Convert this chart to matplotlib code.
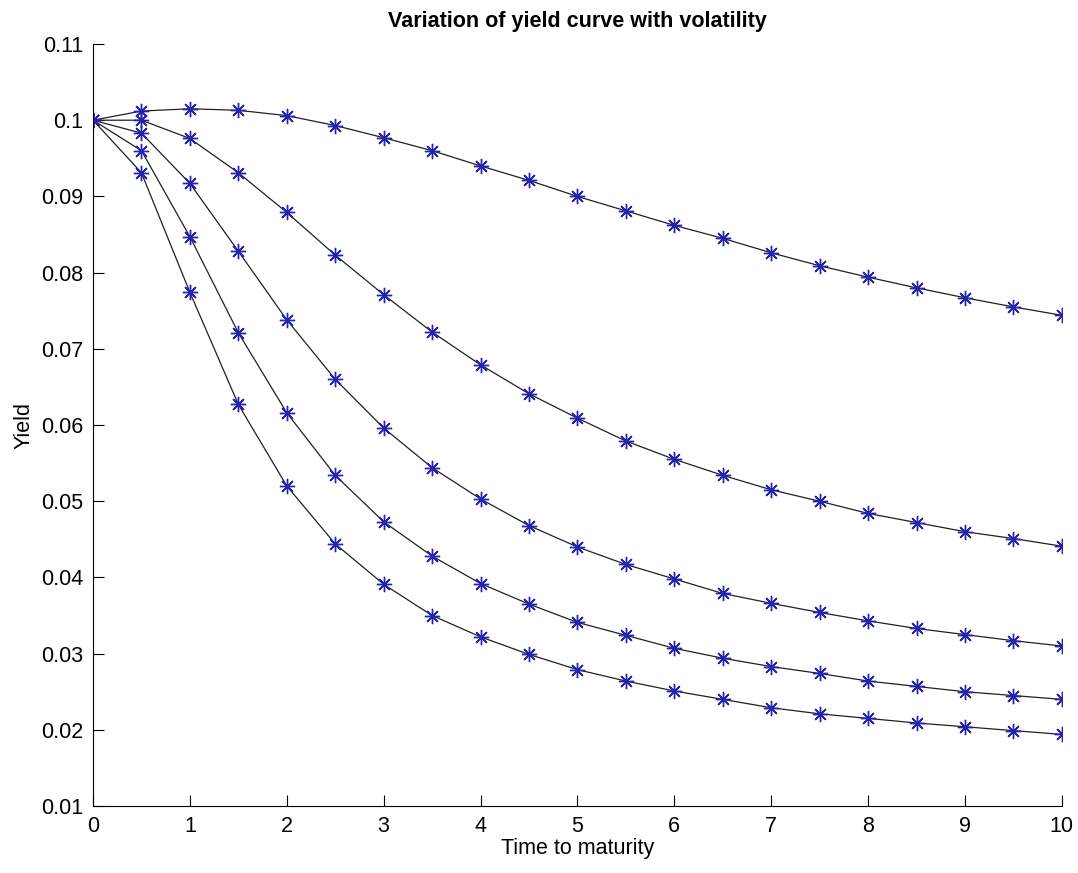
import matplotlib.pyplot as plt

# yield curves for increasing volatility
maturity = [0, 0.5, 1, 1.5, 2, 2.5, 3, 3.5, 4, 4.5, 5,
            5.5, 6, 6.5, 7, 7.5, 8, 8.5, 9, 9.5, 10]

yield_1 = [0.1, 0.1012, 0.1015, 0.1013, 0.1006, 0.0993, 0.0977, 0.0960, 0.0940, 0.0921, 0.0900,
           0.0881, 0.0862, 0.0845, 0.0826, 0.0809, 0.0794, 0.0780, 0.0767, 0.0755, 0.0744]
yield_2 = [0.1, 0.1000, 0.0976, 0.0931, 0.0879, 0.0823, 0.0771, 0.0722, 0.0679, 0.0641, 0.0609,
           0.0579, 0.0555, 0.0534, 0.0515, 0.0500, 0.0484, 0.0472, 0.0460, 0.0451, 0.0441]
yield_3 = [0.1, 0.0983, 0.0917, 0.0828, 0.0738, 0.0660, 0.0596, 0.0544, 0.0503, 0.0468, 0.0440,
           0.0417, 0.0398, 0.0379, 0.0366, 0.0354, 0.0343, 0.0333, 0.0325, 0.0317, 0.0310]
yield_4 = [0.1, 0.0960, 0.0847, 0.0721, 0.0616, 0.0534, 0.0473, 0.0428, 0.0392, 0.0365, 0.0341,
           0.0324, 0.0307, 0.0294, 0.0283, 0.0274, 0.0264, 0.0257, 0.0250, 0.0245, 0.0240]
yield_5 = [0.1, 0.0931, 0.0774, 0.0627, 0.0520, 0.0444, 0.0391, 0.0350, 0.0322, 0.0299, 0.0279,
           0.0264, 0.0251, 0.0240, 0.0229, 0.0221, 0.0215, 0.0209, 0.0204, 0.0199, 0.0194]

curves = [yield_1, yield_2, yield_3, yield_4, yield_5]

plt.rcParams['font.family'] = ['Liberation Sans', 'DejaVu Sans']

fig = plt.figure(figsize=(10.78, 8.73), dpi=100)
ax = fig.add_axes([0.0863, 0.0767, 0.8987, 0.8729])

for y in curves:
    ax.plot(maturity, y, color='#202020', linewidth=0.9)
    ax.plot(maturity, y, linestyle='none', marker=(8, 2, 0), markersize=11,
            markeredgecolor='#2424b0', markeredgewidth=1.0)

ax.set_xlim(0, 10)
ax.set_ylim(0.01, 0.11)
ax.set_xticks(range(0, 11))
ax.set_yticks([0.01, 0.02, 0.03, 0.04, 0.05, 0.06, 0.07, 0.08, 0.09, 0.1, 0.11])
ax.set_yticklabels(['0.01', '0.02', '0.03', '0.04', '0.05', '0.06', '0.07', '0.08', '0.09', '0.1', '0.11'])

# matlab style axes: only left and bottom, ticks pointing in
ax.spines['top'].set_visible(False)
ax.spines['right'].set_visible(False)
ax.tick_params(direction='in', length=8, labelsize=15.5, pad=7)

ax.set_xlabel('Time to maturity', size=15.5, labelpad=1)
ax.set_ylabel('Yield', size=15.5, labelpad=5)
ax.set_title('Variation of yield curve with volatility', size=15.5, fontweight='bold', pad=12)

plt.savefig('out.png')
